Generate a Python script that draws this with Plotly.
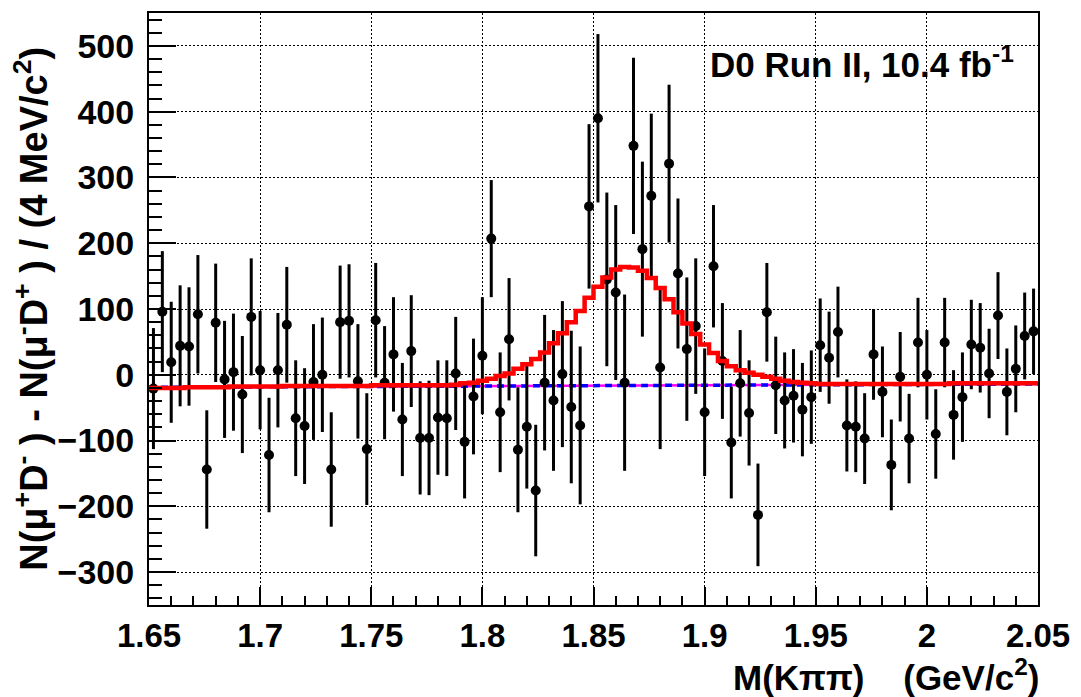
import numpy as np
import plotly.graph_objects as go

# ---- data (4 MeV bins from 1.65 to 2.05 GeV) ----
bin_low = 1.65
bin_width = 0.004
n_bins = 100

counts = [-21, 96, 19, 44, 43, 92, -144, 79, -7, 4,
          -30, 88, 7, -122, 7, 76, -66, -78, -11, 0,
          -144, 80, 82, -10, -113, 83, -12, 31, -68, 36,
          -96, -96, -65, -66, 2, -102, -33, 29, 207, -57,
          54, -114, -79, -176, -12, -39, 1, -49, -77, 256,
          390, 145, 125, -12, 348, 191, 272, 11, 321, 154,
          39, 74, -57, 165, 21, -103, -13, -58, -213, 95,
          -16, -39, -32, -53, -34, 45, 26, 65, -77, -79,
          -97, 31, -26, -137, -3, -97, 49, 0, -90, 49,
          -61, -34, 46, 41, 2, 90, -26, 9, 59, 66]

errors = [92, 92, 92, 92, 90, 90, 90, 90, 89, 89,
          89, 89, 90, 87, 87, 88, 88, 88, 88, 87,
          87, 86, 86, 87, 85, 87, 86, 87, 86, 85,
          86, 87, 87, 88, 86, 86, 88, 89, 89, 91,
          93, 95, 94, 100, 103, 107, 111, 116, 120, 125,
          128, 132, 133, 134, 134, 133, 125, 124, 120, 114,
          109, 103, 97, 93, 88, 85, 81, 80, 78, 75,
          74, 73, 71, 71, 71, 71, 70, 69, 70, 69,
          69, 69, 69, 69, 68, 68, 68, 68, 68, 68,
          68, 68, 68, 68, 68, 66, 66, 66, 66, 65]

fit = [-20, -20, -20, -20, -19, -19, -19, -19, -19, -18,
       -18, -18, -18, -18, -18, -17, -17, -17, -17, -17,
       -17, -17, -17, -17, -17, -16, -16, -16, -16, -16,
       -16, -16, -16, -16, -15, -13, -12, -9, -6, -2,
       2, 9, 16, 24, 34, 48, 63, 80, 97, 117,
       134, 148, 160, 164, 163, 158, 147, 132, 115, 95,
       78, 62, 46, 33, 21, 13, 7, 3, 0, -3,
       -6, -9, -11, -12, -13, -14, -14, -14, -14, -14,
       -14, -14, -14, -14, -14, -14, -14, -14, -14, -14,
       -13, -13, -13, -13, -13, -13, -13, -13, -13, -13]

bkg_x = [1.65, 2.05]
bkg_y = [-19, -14]

x_ticks = [1.65, 1.7, 1.75, 1.8, 1.85, 1.9, 1.95, 2.0, 2.05]
x_tick_labels = ["1.65", "1.7", "1.75", "1.8", "1.85", "1.9", "1.95", "2", "2.05"]
y_ticks = [-300, -200, -100, 0, 100, 200, 300, 400, 500]

centers = bin_low + bin_width * (np.arange(n_bins) + 0.5)
edges = bin_low + bin_width * np.arange(n_bins + 1)
fit_steps = list(fit) + [fit[-1]]

FONT = "Liberation Sans, Arial, Helvetica, sans-serif"

fig = go.Figure()

# background components
fig.add_trace(go.Scatter(x=bkg_x, y=bkg_y, mode="lines",
                         line=dict(color="#ff00ff", width=2.5), hoverinfo="skip"))
fig.add_trace(go.Scatter(x=bkg_x, y=bkg_y, mode="lines",
                         line=dict(color="#0000ff", width=3.5, dash="7px,5px"), hoverinfo="skip"))

# data points
fig.add_trace(go.Scatter(x=centers, y=counts, mode="markers",
                         marker=dict(color="black", size=10),
                         error_y=dict(type="data", array=errors, color="black",
                                      thickness=3, width=0)))

# fit (histogram style)
fig.add_trace(go.Scatter(x=edges, y=fit_steps, mode="lines", line_shape="hv",
                         line=dict(color="#ff0000", width=4.5), hoverinfo="skip"))

axis_common = dict(showline=True, linecolor="black", linewidth=2, mirror=True,
                   ticks="inside", tickcolor="black", tickwidth=1.5,
                   showgrid=True, gridcolor="black", gridwidth=1, griddash="2px,2px",
                   zeroline=False)

fig.update_xaxes(range=[1.65, 2.05], tickvals=x_ticks, ticktext=x_tick_labels,
                 ticklen=18,
                 minor=dict(dtick=0.01, tick0=1.65, ticks="inside", ticklen=9,
                            tickcolor="black", tickwidth=1.5, showgrid=False),
                 tickfont=dict(family=FONT, size=33, color="black", weight="bold"),
                 **axis_common)
fig.update_yaxes(range=[-350, 550], tickvals=y_ticks,
                 ticklen=27, ticklabelstandoff=6,
                 minor=dict(dtick=20, tick0=0, ticks="inside", ticklen=13,
                            tickcolor="black", tickwidth=1.5, showgrid=False),
                 tickfont=dict(family=FONT, size=34, color="black", weight="bold"),
                 **axis_common)

fig.add_annotation(xref="paper", yref="paper", x=0.629, y=0.918,
                   xanchor="left", yanchor="middle", showarrow=False,
                   text="<b>D0 Run II, 10.4 fb<sup>-1</sup></b>",
                   font=dict(family=FONT, size=35, color="black"))

fig.add_annotation(xref="paper", yref="paper", x=1.003, y=-0.118,
                   xanchor="right", yanchor="middle", showarrow=False,
                   text="<b>M(K\u03c0\u03c0)\u00a0\u00a0\u00a0\u00a0(GeV/c<sup>2</sup>)</b>",
                   font=dict(family=FONT, size=35, color="black"))

fig.add_annotation(xref="paper", yref="paper", x=-0.133, y=0.50,
                   xanchor="center", yanchor="middle", showarrow=False, textangle=-90,
                   text="<b>N(\u03bc<sup>+</sup>D<sup>-</sup> ) - N(\u03bc<sup>-</sup>D<sup>+</sup> ) / (4 MeV/c<sup>2</sup>)</b>",
                   font=dict(family=FONT, size=38, color="black"))

fig.update_layout(width=1081, height=697,
                  margin=dict(l=149, r=36, t=11, b=92),
                  paper_bgcolor="white", plot_bgcolor="white",
                  showlegend=False)

fig.write_html("out.html")
